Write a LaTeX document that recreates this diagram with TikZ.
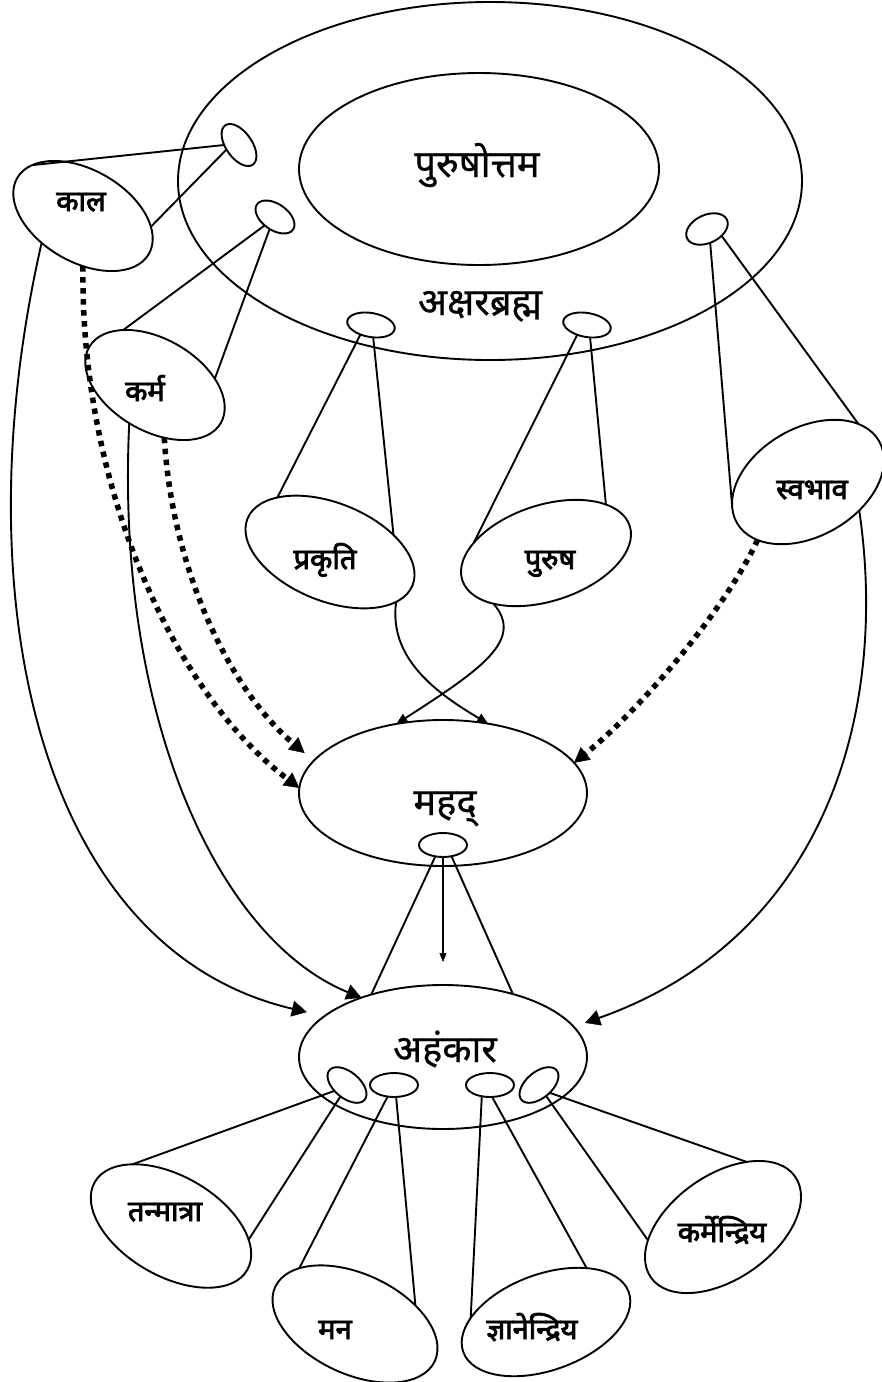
\documentclass[tikz,border=0pt]{standalone}
\usepackage{fontspec}
\newfontfamily\dev[Script=Devanagari,FakeBold=0.6]{Noto Sans}
\newfontfamily\devb[Script=Devanagari,FakeBold=3]{Noto Sans}
\usetikzlibrary{shapes.geometric,arrows.meta}
\begin{document}
\begin{tikzpicture}[x=1pt,y=-1pt,line width=1.9pt,
  el/.style={draw,ellipse,inner sep=0pt,outer sep=0pt},
  big/.style={font=\dev\fontsize{38}{42}\selectfont,anchor=base,inner sep=0pt},
  lab/.style={font=\devb\fontsize{29}{32}\selectfont,anchor=base,inner sep=0pt},
  tipL/.style={-{Triangle[length=15pt,width=16pt,line width=0.5pt]}},
  tipS/.style={-{Triangle[length=11pt,width=10pt,line width=0.5pt]}},
  tipT/.style={-{Triangle[length=9pt,width=7pt,line width=0.5pt]}},
  dots/.style={line width=5.5pt,dash pattern=on 5.5pt off 5.5pt},
]
\useasboundingbox (0,0) rectangle (882,1382);
% big ellipses
\node[el,minimum width=624pt,minimum height=358pt] (outer) at (490,181) {};
\node[el,minimum width=360pt,minimum height=192pt] (inner) at (479,169) {};
\node[big] (tPur) at (477,177) {पुरुषोत्तम};
\node[big] (tAks) at (480,315) {अक्षरब्रह्म};
% small connector ellipses on outer
\node[el,minimum width=48pt,minimum height=26pt,rotate=-55] (s1) at (239,145) {};
\node[el,minimum width=44pt,minimum height=26pt,rotate=-35] (s2) at (275,217) {};
\node[el,minimum width=44pt,minimum height=28pt,rotate=25] (s3) at (707,229) {};
\node[el,minimum width=48pt,minimum height=24pt,rotate=-10] (s4) at (371,325) {};
\node[el,minimum width=48pt,minimum height=24pt,rotate=-10] (s5) at (587,325) {};
% label ellipses
\node[el,minimum width=152pt,minimum height=92pt,rotate=-30] (kala) at (83,216) {};
\node[lab] (tKala) at (81,211) {काल};
\node[el,minimum width=152pt,minimum height=92pt,rotate=-30] (karma) at (155,385) {};
\node[lab] (tKarma) at (145,401) {कर्म};
\node[el,minimum width=164pt,minimum height=108pt,rotate=30] (svab) at (808,482) {};
\node[lab] (tSvab) at (812,499) {स्वभाव};
\node[el,minimum width=178pt,minimum height=98pt,rotate=-22] (prak) at (330,552) {};
\node[lab] (tPrak) at (325,569) {प्रकृति};
\node[el,minimum width=176pt,minimum height=96pt,rotate=18] (puru) at (546,553) {};
\node[lab] (tPuru) at (550,569) {पुरुष};
% mahad and ahamkara
\node[el,minimum width=288pt,minimum height=146pt] (mahad) at (443,793) {};
\node[big] (tMahad) at (445,815) {महद्};
\node[el,minimum width=48pt,minimum height=24pt] (s6) at (443,845) {};
\node[el,minimum width=288pt,minimum height=144pt] (aham) at (443,1057) {};
\node[big] (tAham) at (445,1062) {अहंकार};
\node[el,minimum width=46pt,minimum height=26pt,rotate=-40] (b1) at (347,1085) {};
\node[el,minimum width=48pt,minimum height=24pt] (b2) at (394,1085) {};
\node[el,minimum width=48pt,minimum height=24pt] (b3) at (490,1085) {};
\node[el,minimum width=46pt,minimum height=26pt,rotate=40] (b4) at (539,1085) {};
% bottom label ellipses
\node[el,minimum width=176pt,minimum height=100pt,rotate=-30] (tan) at (171,1226) {};
\node[lab] (tTan) at (165,1221) {तन्मात्रा};
\node[el,minimum width=176pt,minimum height=100pt,rotate=-25] (mana) at (355,1324) {};
\node[lab] (tMana) at (335,1339) {मन};
\node[el,minimum width=176pt,minimum height=96pt,rotate=20] (jnan) at (546,1322) {};
\node[lab] (tJnan) at (532,1339) {ज्ञानेन्द्रिय};
\node[el,minimum width=176pt,minimum height=104pt,rotate=35] (karm) at (723,1227) {};
\node[lab] (tKarm) at (722,1242) {कर्मेन्द्रिय};
\coordinate (mtip) at (443,962);
% straight connectors (cones)
\draw (s1.235) -- (kala.165);
\draw (s1.255) -- (kala.21);
\draw (s2.254) -- (karma.150);
\draw (s2.281) -- (karma.36);
\draw (s3.-102) -- (svab.167);
\draw (s3.-50) -- (svab.19);
\draw (s4.232) -- (prak.156);
\draw (s4.-70) -- (prak.37);
\draw (s5.235) -- (puru.154);
\draw (s5.-66) -- (puru.21);
\draw (s6.236) -- (aham.139);
\draw (s6.-53) -- (aham.42);
\draw (b1.245) -- (tan.152);
\draw (b1.280) -- (tan.20);
\draw (b2.241) -- (mana.160);
\draw (b2.-80) -- (mana.42);
\draw (b3.234) -- (jnan.157);
\draw (b3.-80) -- (jnan.33);
\draw (b4.-76) -- (karm.35);
\draw (b4.-97) -- (karm.155);
% arrows
\draw[tipT] (s6.south) -- (mtip);
\draw[tipS] (prak.-15) .. controls (388,660) and (440,695) .. (mahad.57);
\draw[tipS] (puru.206) .. controls (525,640) and (480,670) .. (mahad.124);
\draw[tipL,shorten >=18pt] (kala.243) .. controls (-40,600) and (40,950) .. (aham.161);
\draw[tipL] (karma.266) .. controls (115,720) and (220,940) .. (aham.144);
\draw[tipL,shorten >=12pt] (svab.-59) .. controls (890,720) and (820,940) .. (aham.13);
\draw[dots,tipL] (kala.-60) .. controls (80,480) and (170,690) .. (mahad.178);
\draw[dots,tipL,shorten >=12pt] (karma.-50) .. controls (172,570) and (230,690) .. (mahad.166);
\draw[dots,tipL] (svab.199) .. controls (725,610) and (640,710) .. (mahad.13);
\end{tikzpicture}
\end{document}
